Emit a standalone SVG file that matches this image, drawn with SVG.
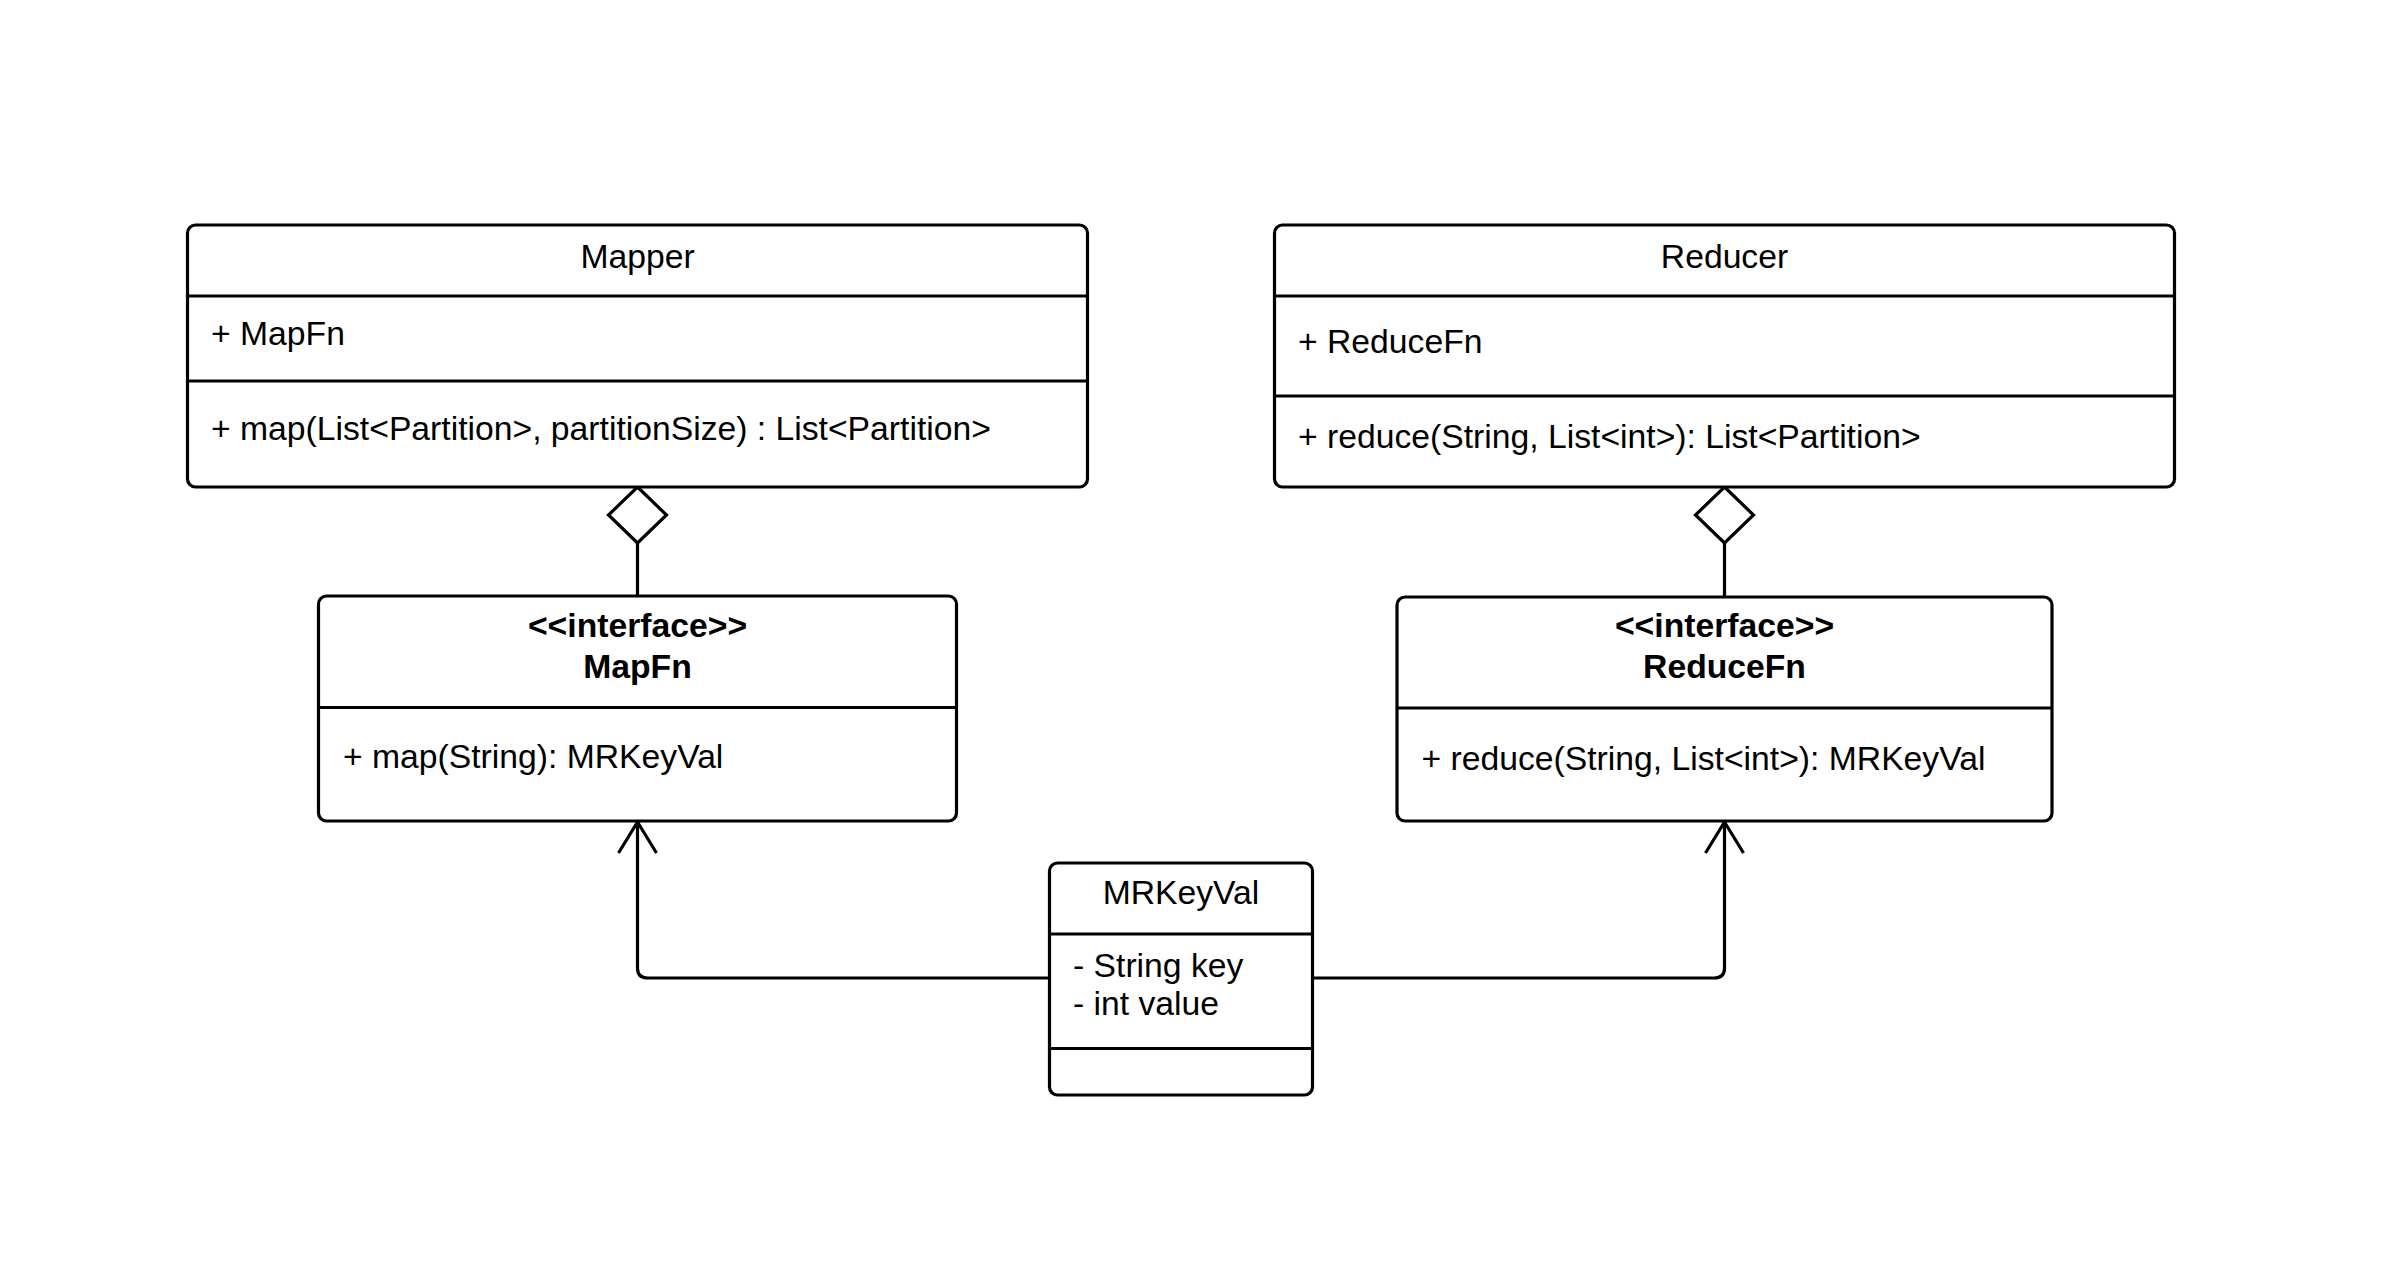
<svg xmlns="http://www.w3.org/2000/svg" width="2405" height="1275" viewBox="0 0 2405 1275">
<style>
.box{fill:#fff;stroke:#000;stroke-width:3.2}
.div{stroke:#000;stroke-width:3.2}
.t{font-family:"Liberation Sans",Arial,sans-serif;font-size:33.7px;fill:#000}
.c{text-anchor:middle}
.b{font-weight:bold}
.con{fill:none;stroke:#000;stroke-width:3.2}
</style>
<defs>
<marker id="open" markerUnits="userSpaceOnUse" markerWidth="40" markerHeight="44" refX="34" refY="22" orient="auto" viewBox="0 0 40 44">
<path d="M3,3 L34,22 L3,41" fill="none" stroke="#000" stroke-width="3.2"/>
</marker>
</defs>
<rect width="2405" height="1275" fill="#fff"/>
<g id="connectors">
<line class="con" x1="637.5" y1="543" x2="637.5" y2="596"/>
<polygon class="con" points="637.5,487 666.5,515 637.5,543 608.5,515" style="fill:#fff"/>
<line class="con" x1="1724.5" y1="543" x2="1724.5" y2="597"/>
<polygon class="con" points="1724.5,487 1753.5,515 1724.5,543 1695.5,515" style="fill:#fff"/>
<path class="con" d="M1049.5,978 H647.5 Q637.5,978 637.5,968 V822" marker-end="url(#open)"/>
<path class="con" d="M1312.5,978 H1714.5 Q1724.5,978 1724.5,968 V822" marker-end="url(#open)"/>
</g>
<g id="mapper">
<rect class="box" x="187.5" y="225" width="900" height="262" rx="8"/>
<line class="div" x1="187.5" y1="296" x2="1087.5" y2="296"/>
<line class="div" x1="187.5" y1="381" x2="1087.5" y2="381"/>
<text class="t c" x="637.5" y="268">Mapper</text>
<text class="t" x="211" y="345">+ MapFn</text>
<text class="t" x="211" y="440">+ map(List&lt;Partition&gt;, partitionSize) : List&lt;Partition&gt;</text>
</g>
<g id="reducer">
<rect class="box" x="1274.5" y="225" width="900" height="262" rx="8"/>
<line class="div" x1="1274.5" y1="296" x2="2174.5" y2="296"/>
<line class="div" x1="1274.5" y1="396" x2="2174.5" y2="396"/>
<text class="t c" x="1724.5" y="268">Reducer</text>
<text class="t" x="1298" y="353">+ ReduceFn</text>
<text class="t" x="1298" y="448">+ reduce(String, List&lt;int&gt;): List&lt;Partition&gt;</text>
</g>
<g id="mapfn">
<rect class="box" x="318.5" y="596" width="638" height="225" rx="8"/>
<line class="div" x1="318.5" y1="707.5" x2="956.5" y2="707.5"/>
<text class="t c b" x="637.5" y="637">&lt;&lt;interface&gt;&gt;</text>
<text class="t c b" x="637.5" y="678">MapFn</text>
<text class="t" x="343" y="768">+ map(String): MRKeyVal</text>
</g>
<g id="reducefn">
<rect class="box" x="1397" y="597" width="655" height="224" rx="8"/>
<line class="div" x1="1397" y1="708" x2="2052" y2="708"/>
<text class="t c b" x="1724.5" y="637">&lt;&lt;interface&gt;&gt;</text>
<text class="t c b" x="1724.5" y="678">ReduceFn</text>
<text class="t" x="1421.5" y="770">+ reduce(String, List&lt;int&gt;): MRKeyVal</text>
</g>
<g id="mrkeyval">
<rect class="box" x="1049.5" y="863" width="263" height="232" rx="8"/>
<line class="div" x1="1049.5" y1="934" x2="1312.5" y2="934"/>
<line class="div" x1="1049.5" y1="1048.5" x2="1312.5" y2="1048.5"/>
<text class="t c" x="1181" y="904">MRKeyVal</text>
<text class="t" x="1073" y="977">- String key</text>
<text class="t" x="1073" y="1015">- int value</text>
</g>
</svg>
